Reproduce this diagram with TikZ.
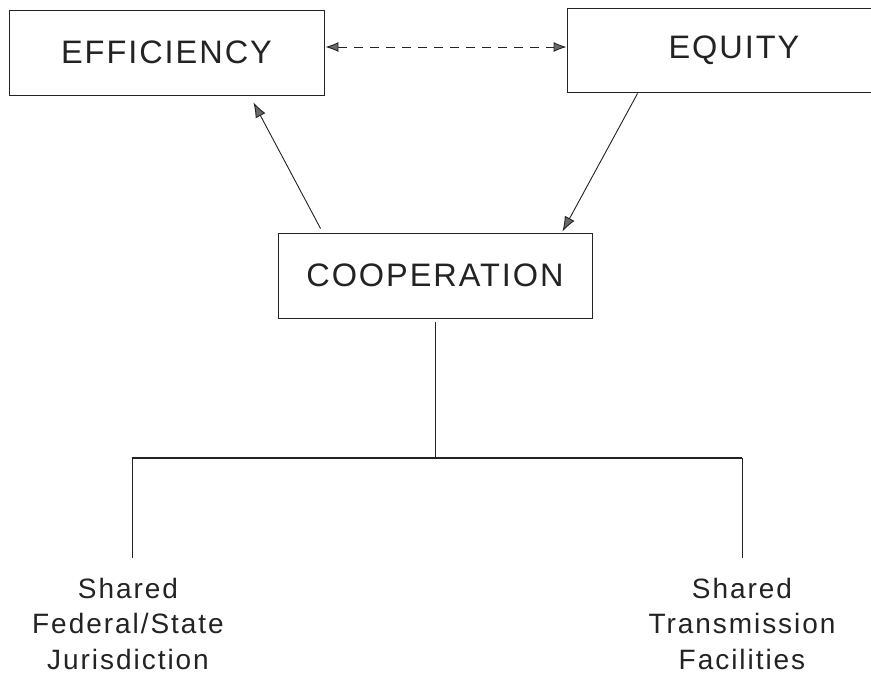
\documentclass[tikz,border=0pt]{standalone}
\usepackage{fontspec}
\setmainfont{Liberation Sans}
\newfontfamily\boxfont[LetterSpace=6]{Liberation Sans}
\newfontfamily\lowfont[LetterSpace=7]{Liberation Sans}
\usetikzlibrary{arrows.meta}
\definecolor{ink}{RGB}{35,35,35}
\definecolor{headfill}{RGB}{105,105,105}
\begin{document}
\begin{tikzpicture}[x=1pt,y=-1pt,
  box/.style={draw=ink, line width=0.9pt, text=ink, inner sep=0pt,
    font=\boxfont\fontsize{32.5}{38}\selectfont},
  lowtext/.style={text=ink, inner sep=0pt, anchor=north, align=center,
    font=\lowfont\fontsize{28}{35.5}\selectfont},
  link/.style={draw=ink, line width=0.9pt},
  tip/.style={-{Latex[length=15pt,width=11pt,fill=headfill]}},
  dtip/.style={{Latex[length=13pt,width=10pt,fill=headfill]}-{Latex[length=13pt,width=10pt,fill=headfill]}}
]
\useasboundingbox (0,0) rectangle (871,674);
\fill[white] (0,0) rectangle (871,674);

\node[box, minimum width=315pt, minimum height=85pt] (eff) at (166.5,52.5) {EFFICIENCY};
\node[box, minimum width=334pt, minimum height=84pt] (eq) at (734,50) {EQUITY};
\node[box, minimum width=314pt, minimum height=85pt] (coop) at (435,275.5) {COOPERATION};

\node[lowtext] (fed) at (128,578) {Shared\\Federal/State\\Jurisdiction};
\node[lowtext] (trans) at (742,578) {Shared\\Transmission\\Facilities};

\coordinate (jn) at (435,458);

% dashed two-way arrow
\draw[link, dtip, dash pattern=on 9pt off 7pt]
  ([shift={(1,-5.5)}]eff.east) -- ([shift={(0,-3)}]eq.west);

% cooperation -> efficiency
\draw[link, tip] ([shift={(43,-4)}]coop.north west) -- ([shift={(-71,7)}]eff.south east);
% equity -> cooperation
\draw[link, tip] ([shift={(71,1)}]eq.south west) -- ([shift={(-30,-1)}]coop.north east);

% tree
\draw[link] ([yshift=-4pt]coop.south) -- (jn);
\draw[draw=ink, line width=1.4pt] ([shift={(4,-120)}]fed.north) -- ([shift={(0,-120)}]trans.north);
\draw[link] ([shift={(4,-20)}]fed.north) -- ([shift={(4,-120)}]fed.north);
\draw[link] ([shift={(0,-20)}]trans.north) -- ([shift={(0,-120)}]trans.north);
\end{tikzpicture}
\end{document}
